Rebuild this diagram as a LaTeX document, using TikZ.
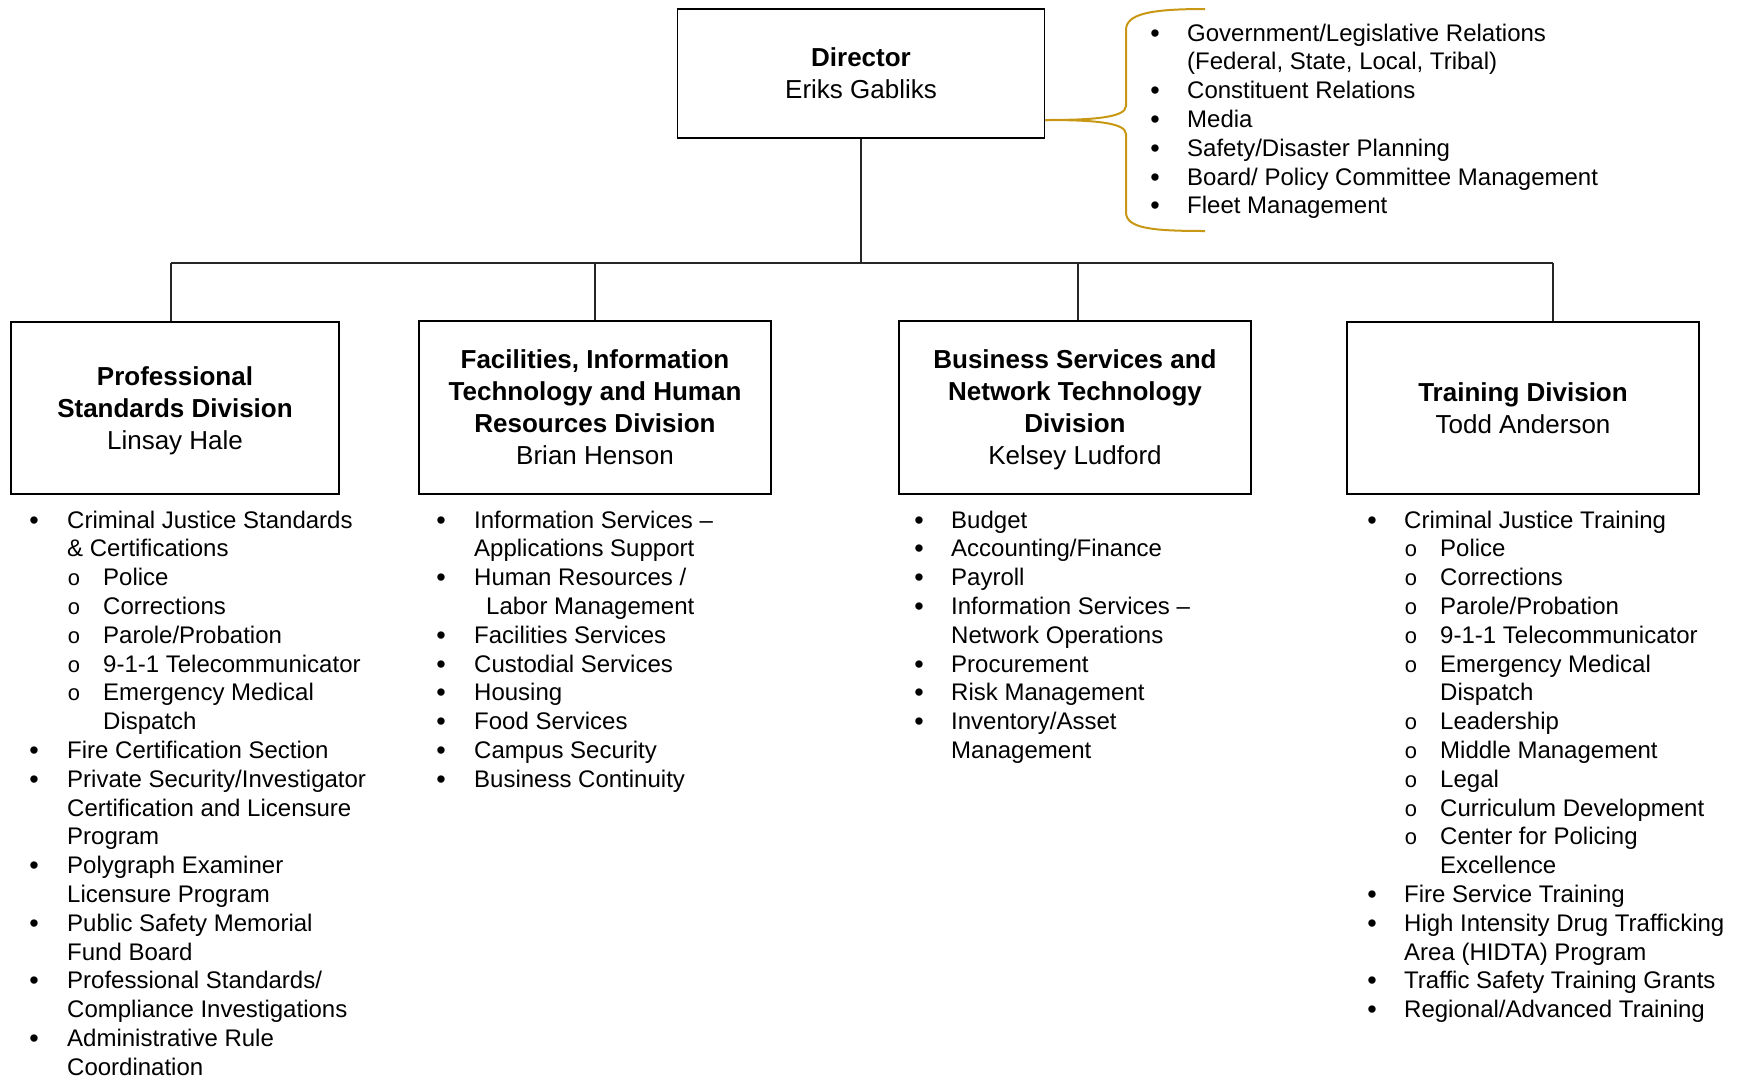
\documentclass[tikz,border=0pt]{standalone}
\usepackage{fontspec}
\setmainfont{Liberation Sans}
\newfontfamily\monofnt{Liberation Mono}
\definecolor{bracegold}{RGB}{200,152,20}
\newcommand\mklist[7]{%
  \foreach [count=\ii from 0] \ty/\tx in {#7}{%
    \pgfmathsetmacro\yy{#2+\ii*28.8}%
    \ifcase\ty\relax
    \or \node[bul] at (#3,\yy) {•}; \node[itm] (#1-\ii) at (#4,\yy) {\tx};
    \or \node[itm] (#1-\ii) at (#4,\yy) {\tx};
    \or \node[subbul] at (#5,\yy) {o}; \node[itm] (#1-\ii) at (#6,\yy) {\tx};
    \or \node[itm] (#1-\ii) at (#6,\yy) {\tx};
    \or \node[itm] (#1-\ii) at (#4+12,\yy) {\tx};
    \fi}}
\begin{document}
\begin{tikzpicture}[x=1pt,y=-1pt,
  box/.style={draw=black,line width=1.6pt,inner sep=0pt,align=center,text depth=0pt,font=\fontsize{26}{32}\selectfont},
  conn/.style={draw=black!85,line width=1.3pt},
  brace/.style={draw=bracegold,line width=2pt},
  bul/.style={anchor=base,inner sep=0pt,yshift=-1pt,font=\fontsize{27}{28.8}\selectfont},
  subbul/.style={anchor=base,inner sep=0pt,font=\monofnt\fontsize{22}{28.8}\selectfont},
  itm/.style={anchor=base west,inner sep=0pt,font=\fontsize{24}{28.8}\selectfont}]
\useasboundingbox (0,0) rectangle (1742,1077);

% boxes
\node[box,minimum width=367pt,minimum height=129pt] (dir) at (861,73.5) {\textbf{Director}\\Eriks Gabliks};
\node[box,minimum width=328pt,minimum height=172pt] (b1) at (175,408) {\textbf{Professional}\\\textbf{Standards Division}\\Linsay Hale};
\node[box,minimum width=352pt,minimum height=173pt] (b2) at (595,407.5) {\textbf{Facilities, Information}\\\textbf{Technology and Human}\\\textbf{Resources Division}\\Brian Henson};
\node[box,minimum width=352pt,minimum height=173pt] (b3) at (1075,407.5) {\textbf{Business Services and}\\\textbf{Network Technology}\\\textbf{Division}\\Kelsey Ludford};
\node[box,minimum width=352pt,minimum height=172pt] (b4) at (1523,408) {\textbf{Training Division}\\Todd Anderson};

% connectors
\coordinate (j1) at (171,263);
\coordinate (j2) at (595,263);
\coordinate (j3) at (1078,263);
\coordinate (j4) at (1553,263);
\coordinate (jd) at (dir.south |- j1);
\draw[conn] (j1) -- (j4);
\draw[conn] (dir.south) -- (jd);
\draw[conn] (j1) -- (j1 |- b1.north);
\draw[conn] (j2) -- (j2 |- b2.north);
\draw[conn] (j3) -- (j3 |- b3.north);
\draw[conn] (j4) -- (j4 |- b4.north);

% brace
\coordinate (bt) at ([yshift=-46.5pt]dir.east);
\draw[brace] (bt) .. controls +(45,0) and +(0,12) .. (1126,106) -- (1126,30) .. controls +(0,-16) and +(-55,0) .. (1205,9);
\draw[brace] (bt) .. controls +(45,0) and +(0,-12) .. (1126,134) -- (1126,212) .. controls +(0,16) and +(-55,0) .. (1205,231);

% lists
\mklist{ld}{41}{1155}{1187}{0}{0}{1/{Government/Legislative Relations}, 2/{(Federal, State, Local, Tribal)}, 1/{Constituent Relations}, 1/{Media}, 1/{Safety/Disaster Planning}, 1/{Board/ Policy Committee Management}, 1/{Fleet Management}}

\mklist{la}{528}{34}{67}{74}{103}{1/{Criminal Justice Standards}, 2/{\& Certifications}, 3/{Police}, 3/{Corrections}, 3/{Parole/Probation}, 3/{9-1-1 Telecommunicator}, 3/{Emergency Medical}, 4/{Dispatch}, 1/{Fire Certification Section}, 1/{Private Security/Investigator}, 2/{Certification and Licensure}, 2/{Program}, 1/{Polygraph Examiner}, 2/{Licensure Program}, 1/{Public Safety Memorial}, 2/{Fund Board}, 1/{Professional Standards/}, 2/{Compliance Investigations}, 1/{Administrative Rule}, 2/{Coordination}}

\mklist{lb}{528}{441}{474}{0}{0}{1/{Information Services –}, 2/{Applications Support}, 1/{Human Resources /}, 5/{Labor Management}, 1/{Facilities Services}, 1/{Custodial Services}, 1/{Housing}, 1/{Food Services}, 1/{Campus Security}, 1/{Business Continuity}}

\mklist{lc}{528}{919}{951}{0}{0}{1/{Budget}, 1/{Accounting/Finance}, 1/{Payroll}, 1/{Information Services –}, 2/{Network Operations}, 1/{Procurement}, 1/{Risk Management}, 1/{Inventory/Asset}, 2/{Management}}

\mklist{le}{528}{1372}{1404}{1411}{1440}{1/{Criminal Justice Training}, 3/{Police}, 3/{Corrections}, 3/{Parole/Probation}, 3/{9-1-1 Telecommunicator}, 3/{Emergency Medical}, 4/{Dispatch}, 3/{Leadership}, 3/{Middle Management}, 3/{Legal}, 3/{Curriculum Development}, 3/{Center for Policing}, 4/{Excellence}, 1/{Fire Service Training}, 1/{High Intensity Drug Trafficking}, 2/{Area (HIDTA) Program}, 1/{Traffic Safety Training Grants}, 1/{Regional/Advanced Training}}
\end{tikzpicture}
\end{document}
